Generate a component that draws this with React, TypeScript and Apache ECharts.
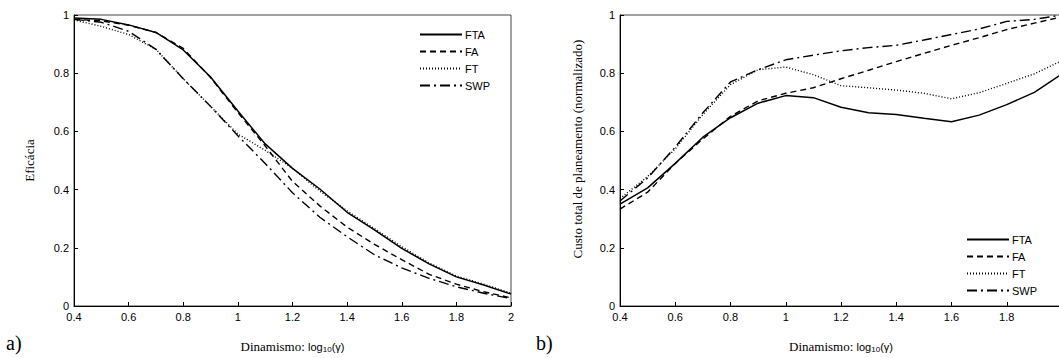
import React, { useEffect, useRef } from "react";
import * as echarts from "echarts";

const xValues = [0.4, 0.5, 0.6, 0.7, 0.8, 0.9, 1.0, 1.1, 1.2, 1.3, 1.4, 1.5, 1.6, 1.7, 1.8, 1.9, 2.0];
const seriesNames = ["FTA", "FA", "FT", "SWP"];

// Panel a) Eficácia
const effFTA = [0.99, 0.985, 0.966, 0.94, 0.88, 0.787, 0.67, 0.557, 0.473, 0.402, 0.322, 0.262, 0.198, 0.145, 0.1, 0.072, 0.041];
const effFA = [0.985, 0.98, 0.965, 0.94, 0.885, 0.785, 0.665, 0.55, 0.428, 0.344, 0.271, 0.212, 0.159, 0.109, 0.075, 0.049, 0.028];
const effFT = [0.983, 0.961, 0.933, 0.882, 0.781, 0.686, 0.591, 0.535, 0.473, 0.395, 0.327, 0.266, 0.204, 0.148, 0.103, 0.075, 0.044];
const effSWP = [0.985, 0.975, 0.944, 0.882, 0.781, 0.686, 0.585, 0.49, 0.389, 0.305, 0.238, 0.176, 0.131, 0.095, 0.066, 0.044, 0.025];

// Panel b) Custo total de planeamento (normalizado)
const costFTA = [0.35, 0.406, 0.49, 0.58, 0.647, 0.697, 0.723, 0.716, 0.683, 0.664, 0.658, 0.645, 0.633, 0.656, 0.692, 0.734, 0.798];
const costFA = [0.333, 0.391, 0.49, 0.574, 0.652, 0.705, 0.731, 0.75, 0.781, 0.81, 0.84, 0.868, 0.896, 0.922, 0.95, 0.972, 0.994];
const costFT = [0.369, 0.445, 0.54, 0.658, 0.761, 0.812, 0.821, 0.795, 0.757, 0.75, 0.742, 0.731, 0.712, 0.733, 0.765, 0.798, 0.843];
const costSWP = [0.361, 0.44, 0.546, 0.664, 0.77, 0.812, 0.846, 0.862, 0.877, 0.888, 0.896, 0.914, 0.933, 0.952, 0.978, 0.985, 1.0];

const lineTypes: any[] = ["solid", [6, 4], [1, 2], [10, 4, 2, 4]];

const SANS = "Liberation Sans, Arial, sans-serif";
const SERIF = "Liberation Serif, Times New Roman, serif";

function pairs(ys: number[]) {
  return xValues.map((x, i) => [x, ys[i]]);
}

export default function App() {
  const ref = useRef<HTMLDivElement>(null);
  useEffect(() => {
    if (!ref.current) return;
    const chart = echarts.init(ref.current, undefined, { renderer: "svg" });
    const xAxisBase = (gridIndex: number) => ({
      type: "value",
      gridIndex,
      min: 0.4,
      max: 2,
      interval: 0.2,
      name: "{a|Dinamismo: }{b|log}{c|10}{b|(γ)}",
      nameLocation: "middle",
      nameGap: 34,
      nameTextStyle: {
        rich: {
          a: { fontFamily: SERIF, fontSize: 13, color: "#000" },
          b: { fontFamily: SANS, fontSize: 11, color: "#000" },
          c: { fontFamily: SANS, fontSize: 8, color: "#000", padding: [5, 0, 0, 0] },
        },
      },
      axisLine: { show: true, lineStyle: { color: "#000", width: 1 } },
      axisTick: { show: true, inside: true, length: 4, lineStyle: { color: "#000" } },
      axisLabel: { fontFamily: SANS, fontSize: 11, color: "#000", margin: 5, showMaxLabel: gridIndex === 0 },
      splitLine: { show: false },
    });
    const yAxisBase = (gridIndex: number, name: string) => ({
      type: "value",
      gridIndex,
      min: 0,
      max: 1,
      interval: 0.2,
      name,
      nameLocation: "middle",
      nameGap: 38,
      nameTextStyle: { fontFamily: SERIF, fontSize: 13, color: "#000" },
      axisLine: { show: true, lineStyle: { color: "#000", width: 1 } },
      axisTick: { show: true, inside: true, length: 4, lineStyle: { color: "#000" } },
      axisLabel: { fontFamily: SANS, fontSize: 11, color: "#000", margin: 5 },
      splitLine: { show: false },
    });
    const mk = (name: string, ys: number[], idx: number, k: number) => ({
      type: "line",
      name,
      xAxisIndex: idx,
      yAxisIndex: idx,
      data: pairs(ys),
      symbol: "none",
      lineStyle: { color: "#000", width: k === 0 ? 1.5 : 1.4, type: lineTypes[k] },
      itemStyle: { color: "#000" },
    });
    const legendBase = {
      orient: "vertical",
      data: seriesNames,
      itemWidth: 42,
      itemHeight: 10,
      itemGap: 6,
      selectedMode: false,
      itemStyle: { color: "transparent", opacity: 0, borderWidth: 0 },
      textStyle: { fontFamily: SANS, fontSize: 11, color: "#000", padding: [0, 0, 0, -2] },
    };
    chart.setOption({
      animation: false,
      backgroundColor: "#fff",
      grid: [
        { left: 74, top: 15, width: 437, height: 297, show: true, borderColor: "#444", borderWidth: 1, backgroundColor: "transparent" },
        { left: 620, top: 15, width: 442, height: 297, show: true, borderColor: "#444", borderWidth: 1, backgroundColor: "transparent" },
      ],
      xAxis: [xAxisBase(0), xAxisBase(1)],
      yAxis: [yAxisBase(0, "Eficácia"), { ...yAxisBase(1, ""), name: "" }],
      legend: [
        { ...legendBase, left: 414, top: 24 },
        { ...legendBase, left: 961, top: 229 },
      ],
      graphic: [
        { type: "text", left: 6, top: 333, style: { text: "a)", font: "20px " + SERIF, fill: "#000" } },
        { type: "text", left: 536, top: 333, style: { text: "b)", font: "20px " + SERIF, fill: "#000" } },
        {
          type: "text",
          x: 577,
          y: 149,
          rotation: Math.PI / 2,
          style: {
            text: "Custo total de planeamento (normalizado)",
            font: "13px " + SERIF,
            fill: "#000",
            align: "center",
            verticalAlign: "middle",
          },
        },
      ],
      series: [
        mk("FTA", effFTA, 0, 0),
        mk("FA", effFA, 0, 1),
        mk("FT", effFT, 0, 2),
        mk("SWP", effSWP, 0, 3),
        mk("FTA", costFTA, 1, 0),
        mk("FA", costFA, 1, 1),
        mk("FT", costFT, 1, 2),
        mk("SWP", costSWP, 1, 3),
      ],
    });
    return () => chart.dispose();
  }, []);
  return (
    <div style={{ position: "fixed", left: 0, top: 0, width: 1059, height: 358, overflow: "hidden", background: "#fff" }}>
      <div ref={ref} style={{ width: 1080, height: 358 }} />
    </div>
  );
}
